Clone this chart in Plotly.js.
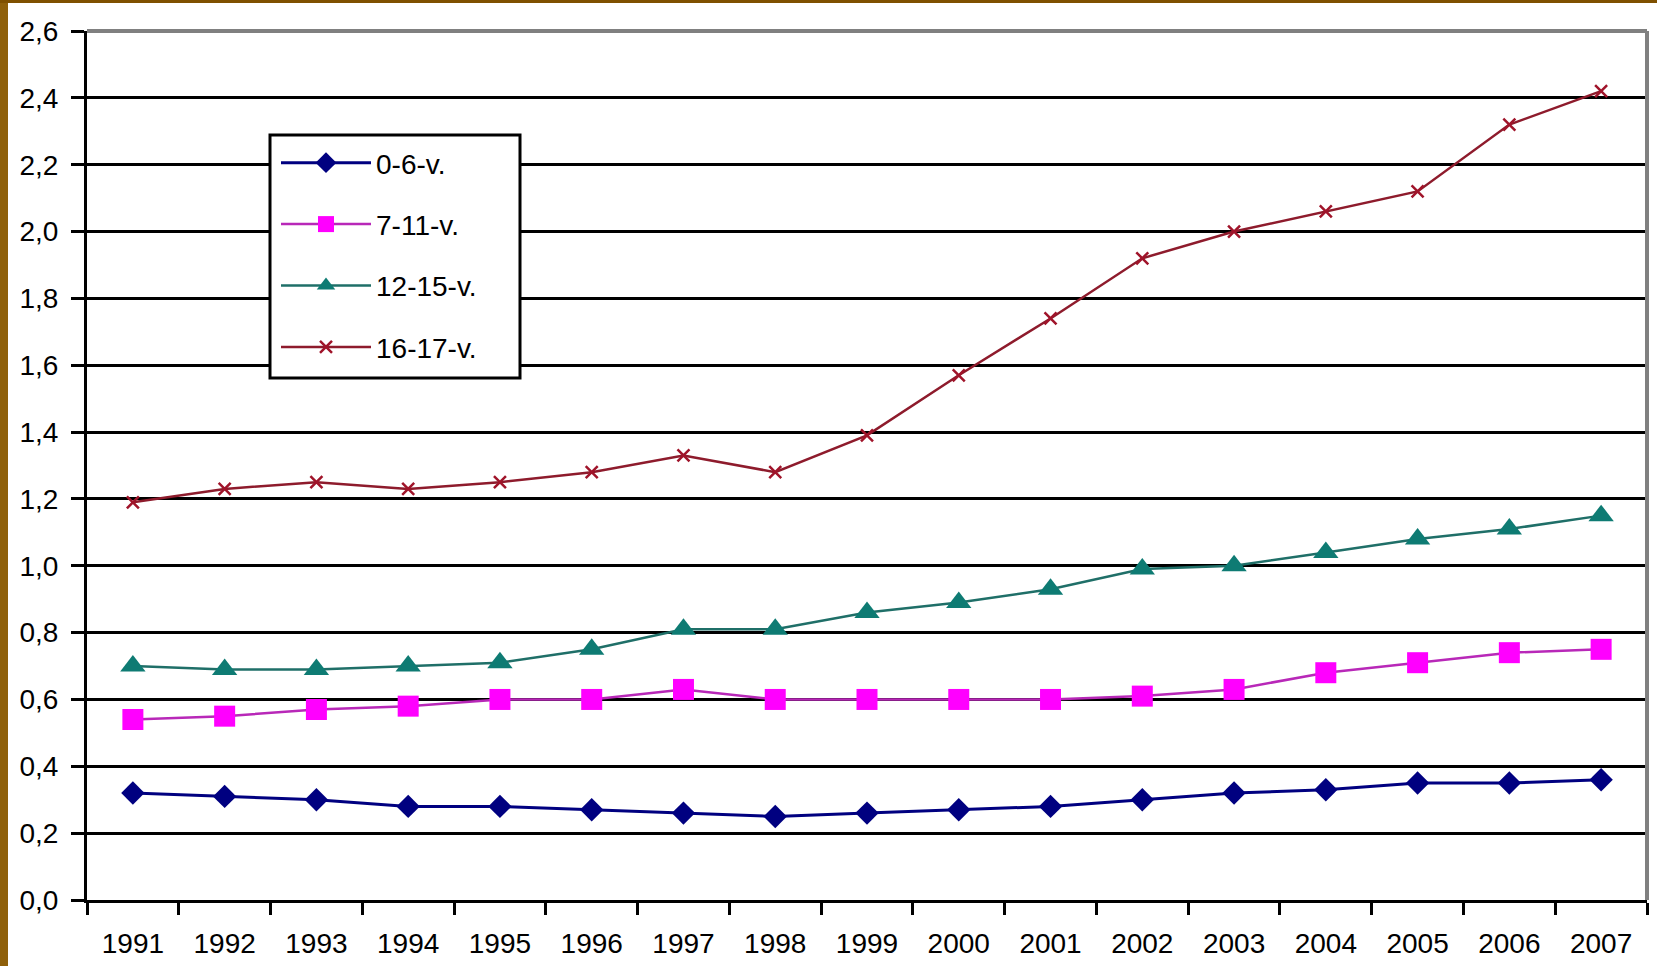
<!DOCTYPE html>
<html>
<head>
<meta charset="utf-8">
<script src="https://cdn.plot.ly/plotly-3.0.1.min.js"></script>
<style>
html,body{margin:0;padding:0;background:#fff;}
#chart{width:1657px;height:966px;}
</style>
</head>
<body>
<div id="chart"></div>
<script>
const years = ['1991','1992','1993','1994','1995','1996','1997','1998','1999','2000','2001','2002','2003','2004','2005','2006','2007'];
const seriesNames = ['0-6-v.','7-11-v.','12-15-v.','16-17-v.'];
const age0to6   = [0.32,0.31,0.30,0.28,0.28,0.27,0.26,0.25,0.26,0.27,0.28,0.30,0.32,0.33,0.35,0.35,0.36];
const age7to11  = [0.54,0.55,0.57,0.58,0.60,0.60,0.63,0.60,0.60,0.60,0.60,0.61,0.63,0.68,0.71,0.74,0.75];
const age12to15 = [0.70,0.69,0.69,0.70,0.71,0.75,0.81,0.81,0.86,0.89,0.93,0.99,1.00,1.04,1.08,1.11,1.15];
const age16to17 = [1.19,1.23,1.25,1.23,1.25,1.28,1.33,1.28,1.39,1.57,1.74,1.92,2.00,2.06,2.12,2.32,2.42];
const yTickVals = [0,0.2,0.4,0.6,0.8,1.0,1.2,1.4,1.6,1.8,2.0,2.2,2.4,2.6];

const FONT = '"Liberation Sans", Arial, sans-serif';

const styles = [
  {line:{color:'#000080',width:3}, marker:{symbol:'diamond',size:18,color:'#000080'}},
  {line:{color:'#B828B8',width:2.5}, marker:{symbol:'square',size:21,color:'#FF00FF'}},
  {line:{color:'#1F6F68',width:2.5}, marker:{symbol:'triangle-up',size:22,color:'#0E7B73'}},
  {line:{color:'#8E1B2C',width:2.5}, marker:{symbol:'x-thin',size:12,color:'#A0142A',line:{color:'#A0142A',width:2.5}}}
];
const data = [age0to6, age7to11, age12to15, age16to17].map((vals,i)=>({
  x: years, y: vals, name: seriesNames[i], type:'scatter', mode:'lines+markers',
  legendgroup:'g'+i, line: styles[i].line, marker: styles[i].marker
}));

// plot area: x 87..1647, y 31..900
const PW = 1560, PH = 869;
const px = v => (v - 87) / PW;
const py = v => (900 - v) / PH;

const layout = {
  width:1657, height:966,
  margin:{l:87, r:10, t:31, b:66, pad:0},
  paper_bgcolor:'#ffffff', plot_bgcolor:'#ffffff',
  separators:', ',
  font:{family:FONT, color:'#000'},
  showlegend:true,
  legend:{
    x:px(276), y:py(138), xanchor:'left', yanchor:'top',
    bgcolor:'rgba(0,0,0,0)', borderwidth:0,
    font:{size:28, color:'#000', family:FONT},
    traceorder:'grouped', tracegroupgap:22, itemwidth:90
  },
  xaxis:{
    type:'category', range:[-0.5,16.5], tickson:'boundaries',
    ticks:'outside', ticklen:12, tickwidth:3, tickcolor:'#000',
    showline:true, linecolor:'#000', linewidth:3,
    showgrid:false, zeroline:false,
    tickfont:{size:28, color:'#000', family:FONT}, ticklabelstandoff:16
  },
  yaxis:{
    range:[0,2.6], tickvals:yTickVals, tickformat:'.1f',
    ticks:'outside', ticklen:13, tickwidth:3, tickcolor:'#000',
    showline:true, linecolor:'#000', linewidth:3,
    showgrid:true, gridcolor:'#000', gridwidth:3, zeroline:false,
    tickfont:{size:28, color:'#000', family:FONT}, ticklabelstandoff:7
  },
  shapes:[
    {type:'line', xref:'paper', yref:'paper', x0:0, x1:1, y0:1, y1:1, line:{color:'#808080', width:4}, layer:'above'},
    {type:'line', xref:'paper', yref:'paper', x0:1, x1:1, y0:0, y1:1, line:{color:'#808080', width:4}, layer:'above'},
    {type:'rect', xref:'paper', yref:'paper', x0:px(270), x1:px(520), y0:py(378), y1:py(135), fillcolor:'#ffffff', line:{color:'#000', width:3}, layer:'above'},
    {type:'rect', xref:'paper', yref:'paper', x0:px(0), x1:px(8), y0:py(966), y1:py(0), fillcolor:'#8F600A', line:{width:0}, layer:'below'},
    {type:'rect', xref:'paper', yref:'paper', x0:px(0), x1:px(1657), y0:py(3), y1:py(0), fillcolor:'#7F5000', line:{width:0}, layer:'below'}
  ]
};
Plotly.newPlot('chart', data, layout, {staticPlot:true, displayModeBar:false});
</script>
</body>
</html>
